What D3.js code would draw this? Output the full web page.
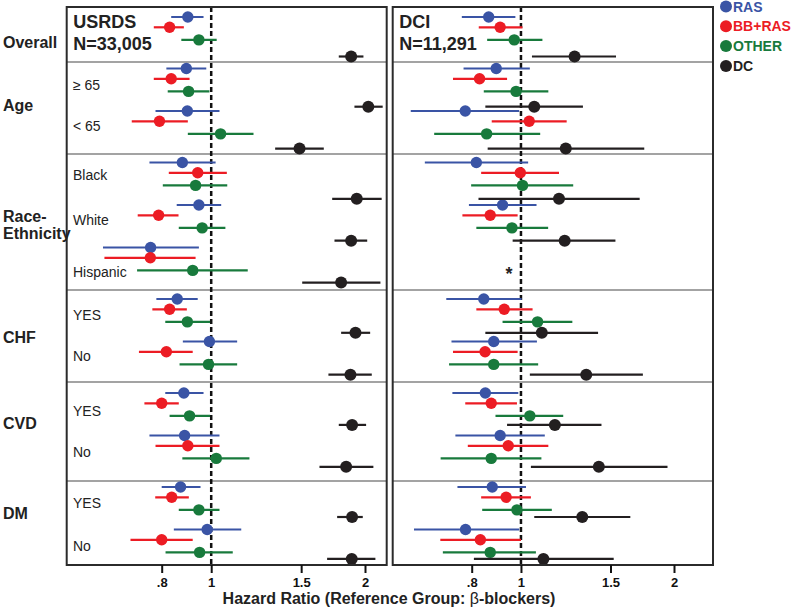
<!DOCTYPE html>
<html><head><meta charset="utf-8">
<script src="https://cdn.jsdelivr.net/npm/d3@7"></script>
<style>body{margin:0;background:#fff}svg{display:block;font-family:"Liberation Sans",Arial,sans-serif}</style>
</head><body><svg id="c" width="800" height="609"></svg>
<script>
// ---------- data ----------
const groups = ["Overall", "Age", "Race-|Ethnicity", "CHF", "CVD", "DM"];
const subgroups = ["", "\u2265 65", "< 65", "Black", "White", "Hispanic", "YES", "No", "YES", "No", "YES", "No"];
const subgroupGroup = [0, 1, 1, 2, 2, 2, 3, 3, 4, 4, 5, 5];
const seriesNames = ["RAS", "BB+RAS", "OTHER", "DC"];
const panels = ["USRDS", "DCI"];
const panelN = ["N=33,005", "N=11,291"];
const ticks = [0.8, 1, 1.5, 2];
const tickLabels = [".8", "1", "1.5", "2"];
// [hazard ratio, lower CI, upper CI]
const usrdsRAS = [[0.90,0.835,0.966],[0.894,0.817,0.978],[0.898,0.778,1.038],[0.878,0.757,1.02],[0.946,0.856,1.046],[0.761,0.614,0.946],[0.858,0.781,0.941],[0.992,0.88,1.124],[0.884,0.813,0.966],[0.887,0.757,1.038],[0.871,0.80,0.953],[0.982,0.845,1.145]];
const usrdsBBRAS = [[0.829,0.772,0.884],[0.835,0.772,0.907],[0.792,0.699,0.90],[0.941,0.826,1.073],[0.789,0.718,0.863],[0.760,0.618,0.932],[0.829,0.767,0.896],[0.817,0.722,0.92],[0.80,0.74,0.864],[0.90,0.778,1.038],[0.837,0.777,0.904],[0.80,0.695,0.92]];
const usrdsOTHER = [[0.946,0.874,1.025],[0.903,0.822,0.992],[1.043,0.90,1.21],[0.932,0.804,1.075],[0.96,0.864,1.066],[0.92,0.716,1.179],[0.898,0.813,0.995],[0.988,0.867,1.124],[0.907,0.829,0.995],[1.023,0.878,1.188],[0.946,0.864,1.038],[0.949,0.814,1.102]];
const usrdsDC = [[1.879,1.777,1.986],[2.03,1.907,2.166],[1.489,1.334,1.661],[1.927,1.725,2.156],[1.879,1.743,2.02],[1.796,1.507,2.144],[1.916,1.796,2.047],[1.873,1.696,2.062],[1.887,1.777,2.01],[1.837,1.629,2.077],[1.887,1.764,1.98],[1.884,1.686,2.096]];
const dciRAS = [[0.864,0.765,0.975],[0.894,0.771,1.041],[0.777,0.607,0.992],[0.817,0.647,1.033],[0.92,0.79,1.073],null,[0.845,0.713,1.003],[0.884,0.73,1.075],[0.851,0.733,0.988],[0.91,0.743,1.114],[0.878,0.75,1.023],[0.778,0.616,0.992]];
const dciBBRAS = [[0.91,0.826,1.007],[0.829,0.735,0.939],[1.038,0.876,1.23],[0.997,0.835,1.188],[0.87,0.767,0.985],null,[0.927,0.817,1.054],[0.85,0.735,0.985],[0.874,0.777,0.982],[0.944,0.786,1.132],[0.935,0.835,1.046],[0.832,0.694,1.0]];
const dciOTHER = [[0.97,0.858,1.102],[0.978,0.845,1.132],[0.856,0.675,1.091],[1.007,0.798,1.267],[0.96,0.817,1.131],null,[1.078,0.92,1.262],[0.884,0.722,1.081],[1.041,0.891,1.211],[0.874,0.695,1.097],[0.982,0.839,1.15],[0.87,0.702,1.07]];
const dciDC = [[1.275,1.051,1.538],[1.062,0.851,1.324],[1.225,0.86,1.748],[1.188,0.825,1.712],[1.219,0.963,1.534],null,[1.099,0.851,1.418],[1.344,1.041,1.737],[1.166,0.939,1.44],[1.423,1.046,1.942],[1.32,1.062,1.641],[1.107,0.808,1.522]];
const panelData = [[usrdsRAS, usrdsBBRAS, usrdsOTHER, usrdsDC], [dciRAS, dciBBRAS, dciOTHER, dciDC]];

// ---------- layout / style ----------
const colors = ["#3a54a5", "#ec1c24", "#187a3c", "#231f20"];
const plotTop = 7, plotBottom = 565;
const panelBox = [[66.7, 386.7], [392.7, 713]];
const tickRange = [[161.7, 365], [471.7, 674]];
// vertical layout: subgroup index i, group index g
const yBase = [17, 27.3, 39.9, 56.5], yStep = [42.5, 42.5, 42.5, 41.9], yGap = [9, 9, 9, 8.3];
const yOf = (i, s) => yBase[s] + yStep[s] * i + yGap[s] * subgroupGroup[i];
const sepDy = [-6.5, -8.5, -9, -11, -6];            // separator offset from first row of group
const groupLabelDy = [25, 16, 20, 17, 9.5, 5.5];     // group label centre offset
const subLabelDy = [0, 21, 20, 17.5, 20, 29, 21, 19.5, 23, 21, 20.5, 21];

const svg = d3.select("#c");

panels.forEach((p, pi) => {
  const [x0, x1] = panelBox[pi];
  const x = d3.scaleLog().domain([0.8, 2]).range(tickRange[pi]);
  const g = svg.append("g");
  // group separators
  for (let gi = 1; gi < groups.length; gi++) {
    const first = subgroupGroup.indexOf(gi);
    const yy = yOf(first, 0) + sepDy[gi - 1];
    g.append("line").attr("x1", x0).attr("x2", x1).attr("y1", yy).attr("y2", yy)
      .attr("stroke", "#a3a3a3").attr("stroke-width", 2);
  }
  // reference line at HR=1
  g.append("line").attr("x1", x(1)).attr("x2", x(1)).attr("y1", plotTop).attr("y2", plotBottom)
    .attr("stroke", "#111").attr("stroke-width", 2.5).attr("stroke-dasharray", "5,3");
  // marks
  panelData[pi].forEach((series, si) => {
    series.forEach((d, i) => {
      if (!d) return;
      const yy = yOf(i, si);
      g.append("line").attr("x1", x(d[1])).attr("x2", x(d[2])).attr("y1", yy).attr("y2", yy)
        .attr("stroke", colors[si]).attr("stroke-width", 2.2);
      g.append("circle").attr("cx", x(d[0])).attr("cy", yy).attr("r", si === 3 ? 6 : 5.7)
        .attr("fill", colors[si]);
    });
  });
  // frame
  g.append("rect").attr("x", x0).attr("y", plotTop).attr("width", x1 - x0).attr("height", plotBottom - plotTop)
    .attr("fill", "none").attr("stroke", "#2b2b2b").attr("stroke-width", 2);
  // axis
  const ax = g.append("g").attr("transform", `translate(0,${plotBottom})`)
    .call(d3.axisBottom(x).tickValues(ticks).tickFormat((d, k) => tickLabels[k]).tickSize(8).tickPadding(5));
  ax.select(".domain").remove();
  ax.selectAll(".tick line").attr("stroke", "#111").attr("stroke-width", 2);
  ax.selectAll(".tick text").attr("font-size", 13).attr("font-weight", "bold").attr("fill", "#111")
    .attr("font-family", "Liberation Sans, Arial, sans-serif");
  // titles
  g.append("text").attr("x", x0 + 6.5).attr("y", 28).text(p)
    .attr("font-size", 18).attr("font-weight", "bold").attr("fill", "#222");
  g.append("text").attr("x", x0 + 6.5).attr("y", 49.5).text(panelN[pi])
    .attr("font-size", 18).attr("font-weight", "bold").attr("fill", "#222");
  // missing data marker (DCI Hispanic)
  panelData[pi][0].forEach((d, i) => {
    if (d) return;
    g.append("text").attr("x", x(1) - 12).attr("y", yOf(i, 2) + 10).text("*")
      .attr("font-size", 18).attr("font-weight", "bold").attr("fill", "#222").attr("text-anchor", "middle");
  });
});

// subgroup labels
subgroups.forEach((s, i) => {
  if (!s) return;
  svg.append("text").attr("x", 73).attr("y", yOf(i, 0) + subLabelDy[i]).text(s)
    .attr("font-size", 14).attr("fill", "#222");
});
// group labels
groups.forEach((gname, gi) => {
  const idx = subgroupGroup.map((g, i) => g === gi ? i : -1).filter(i => i >= 0);
  const cy = d3.mean(idx, i => yOf(i, 0)) + groupLabelDy[gi];
  const lines = gname.split("|");
  lines.forEach((ln, k) => {
    svg.append("text").attr("x", 3).attr("y", cy + 5.5 + (k - (lines.length - 1) / 2) * 17).text(ln)
      .attr("font-size", 16).attr("font-weight", "bold").attr("fill", "#222");
  });
});

// axis title
const at = svg.append("text").attr("x", 389).attr("y", 604).attr("text-anchor", "middle")
  .attr("font-size", 16).attr("font-weight", "bold").attr("fill", "#222");
at.append("tspan").text("Hazard Ratio (Reference Group: ");
at.append("tspan").attr("font-weight", "normal").text("\u03b2");
at.append("tspan").text("-blockers)");

// legend
seriesNames.forEach((n, k) => {
  const ly = 6.5 + k * 19.8;
  svg.append("circle").attr("cx", 726).attr("cy", ly).attr("r", 6).attr("fill", colors[k]);
  svg.append("text").attr("x", 733).attr("y", ly + 5).text(n)
    .attr("font-size", 14).attr("font-weight", "bold").attr("fill", colors[k]);
});
</script></body></html>
